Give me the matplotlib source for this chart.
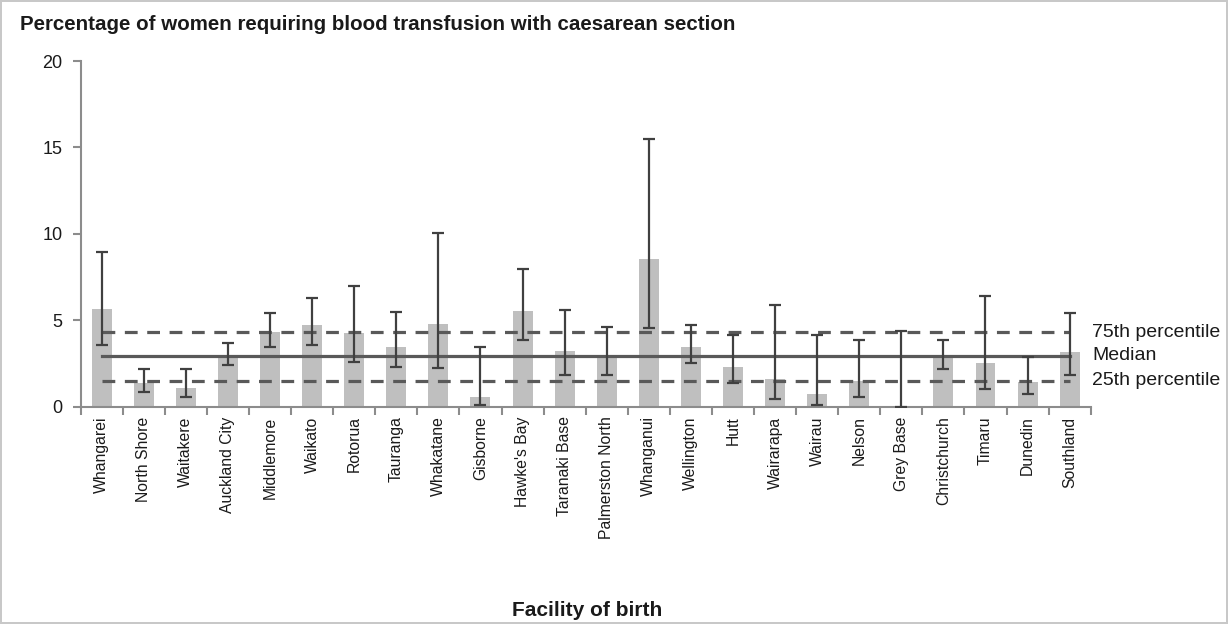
import matplotlib
matplotlib.use("Agg")
import matplotlib.pyplot as plt
from matplotlib.ticker import FixedLocator, NullFormatter
from matplotlib import font_manager
import numpy as np

facilities = ["Whangarei", "North Shore", "Waitakere", "Auckland City", "Middlemore",
              "Waikato", "Rotorua", "Tauranga", "Whakatane", "Gisborne", "Hawke's Bay",
              "Taranaki Base", "Palmerston North", "Whanganui", "Wellington", "Hutt",
              "Wairarapa", "Wairau", "Nelson", "Grey Base", "Christchurch", "Timaru",
              "Dunedin", "Southland"]
pct = [5.67, 1.39, 1.10, 2.89, 4.30, 4.71, 4.26, 3.47, 4.77, 0.58, 5.54, 3.22, 2.95,
       8.56, 3.47, 2.31, 1.62, 0.72, 1.49, 0.0, 2.92, 2.53, 1.41, 3.15]
ci_low = [3.57, 0.87, 0.54, 2.41, 3.44, 3.57, 2.60, 2.28, 2.22, 0.10, 3.88, 1.83, 1.83,
          4.54, 2.55, 1.35, 0.43, 0.10, 0.54, 0.0, 2.20, 1.01, 0.73, 1.83]
ci_high = [8.97, 2.16, 2.20, 3.70, 5.42, 6.29, 6.97, 5.50, 10.07, 3.44, 7.95, 5.61, 4.59,
           15.47, 4.73, 4.17, 5.87, 4.15, 3.88, 4.40, 3.86, 6.39, 2.86, 5.40]
p75 = 4.30
median = 2.95
p25 = 1.49
ref_labels = ["75th percentile", "Median", "25th percentile"]
title = "Percentage of women requiring blood transfusion with caesarean section"
xlabel = "Facility of birth"

names = {f.name for f in font_manager.fontManager.ttflist}
base = "Liberation Sans" if "Liberation Sans" in names else "DejaVu Sans"
plt.rcParams['font.family'] = [base, 'DejaVu Sans']

fig = plt.figure(figsize=(12.28, 6.24), dpi=100)
fig.patch.set_edgecolor("#c8c8c8")
fig.patch.set_linewidth(1.5)
ax = fig.add_axes([0.0657, 0.3482, 0.8225, 0.554])

x = np.arange(len(facilities))
pct_a = np.array(pct)
yerr = np.vstack([pct_a - np.array(ci_low), np.array(ci_high) - pct_a])
ax.bar(x, pct_a, width=0.475, color="#bfbfbf", zorder=2)
ax.errorbar(x, pct_a, yerr=yerr, fmt="none", ecolor="#404040", elinewidth=1.6,
            capsize=4.3, capthick=1.6, zorder=4)

xs = [x[0], x[-1]]
ax.plot(xs, [p75, p75], color="#595959", lw=2.3, ls=(0, (4, 3)), zorder=3)
ax.plot(xs, [median, median], color="#595959", lw=2.3, zorder=3)
ax.plot(xs, [p25, p25], color="#595959", lw=2.3, ls=(0, (4, 3)), zorder=3)

tx = len(facilities) - 0.5 + 0.03
for yv, lab in zip([p75, median, p25], ref_labels):
    ax.text(tx, yv, lab, fontsize=14, color="#1a1a1a", va="center", ha="left",
            clip_on=False)

ax.set_xlim(-0.5, len(facilities) - 0.5)
ax.set_ylim(0, 20)
ax.set_yticks([0, 5, 10, 15, 20])
ax.tick_params(axis="y", labelsize=13, length=6, width=1.5, color="#8c8c8c",
               labelcolor="#1a1a1a", pad=7)
ax.set_xticks(x)
ax.set_xticklabels(facilities, rotation=90, fontsize=11.3, color="#1a1a1a")
ax.tick_params(axis="x", which="major", length=0, pad=7)
ax.xaxis.set_minor_locator(FixedLocator(np.arange(-0.5, len(facilities), 1.0)))
ax.xaxis.set_minor_formatter(NullFormatter())
ax.tick_params(axis="x", which="minor", length=6, width=1.5, color="#8c8c8c")

for s in ["top", "right"]:
    ax.spines[s].set_visible(False)
for s in ["left", "bottom"]:
    ax.spines[s].set_color("#8c8c8c")
    ax.spines[s].set_linewidth(1.5)

fig.text(20 / 1228, 1 - 30 / 624, title, fontsize=14.8, fontweight="bold",
         color="#1a1a1a", ha="left", va="baseline")
fig.text(587 / 1228, 1 - 616 / 624, xlabel, fontsize=15, fontweight="bold",
         color="#1a1a1a", ha="center", va="baseline")

fig.savefig("out.png", dpi=100, edgecolor=fig.get_edgecolor())
